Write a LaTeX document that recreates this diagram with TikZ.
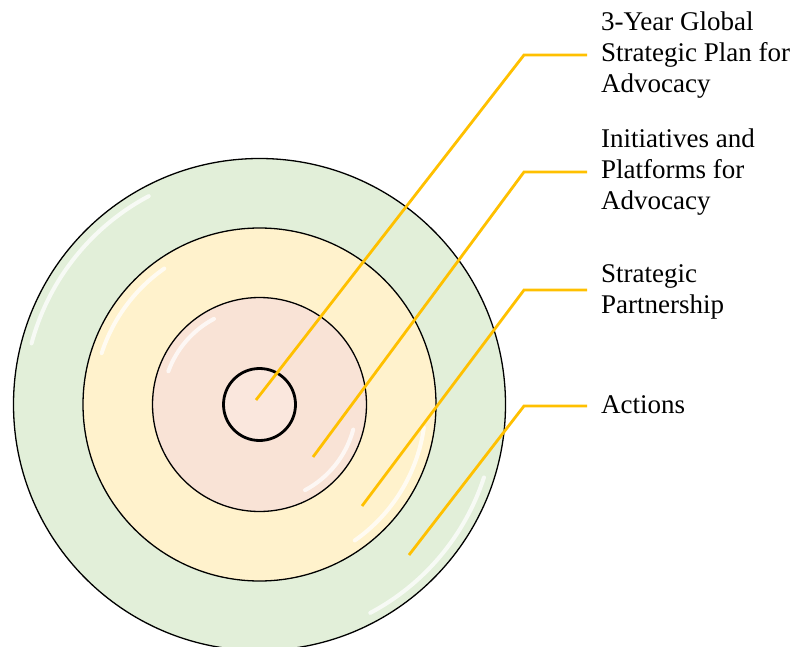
\documentclass[tikz,border=0pt]{standalone}
\usepackage{fontspec}
\setmainfont{Liberation Serif}
\usetikzlibrary{positioning}

\definecolor{actgreen}{HTML}{E2EFD9}
\definecolor{partyellow}{HTML}{FFF2CC}
\definecolor{initpink}{HTML}{F9E3D6}
\definecolor{planpink}{HTML}{FAE7DD}
\definecolor{leadgold}{HTML}{FFC000}

\tikzset{
  ring/.style={circle,draw,line width=1.3pt,inner sep=0pt},
  gloss/.style={white,line width=4pt,line cap=round,opacity=0.75},
  leader/.style={leadgold,line width=2.8pt,shorten >=14pt},
  caption/.style={anchor=base west,inner sep=0pt,align=left,font=\fontsize{27}{31}\selectfont},
}

\begin{document}
\begin{tikzpicture}[x=1pt,y=-1pt]

            % \draw [help lines] (0,0) grid (795,647);
            \useasboundingbox (0,0) rectangle (795,647);

            \path   (259.5,404.5) node (actions ring) [ring,fill=actgreen,minimum size=492pt] {}
                    (259.5,404.5) node (partnership ring) [ring,fill=partyellow,minimum size=353pt] {}
                    (259.5,404.5) node (initiatives ring) [ring,fill=initpink,minimum size=214pt] {}
                    (259.5,404.5) node (plan ring) [ring,fill=planpink,line width=2.8pt,minimum size=72pt] {};

            % shine on the rings
            \draw[gloss] (actions ring.center) ++(118:236pt) arc[start angle=118,end angle=165,radius=236pt];
            \draw[gloss] (actions ring.center) ++(-18:236pt) arc[start angle=-18,end angle=-62,radius=236pt];
            \draw[gloss] (partnership ring.center) ++(125:166pt) arc[start angle=125,end angle=162,radius=166pt];
            \draw[gloss] (partnership ring.center) ++(-8:166pt) arc[start angle=-8,end angle=-55,radius=166pt];
            \draw[gloss] (initiatives ring.center) ++(118:97pt) arc[start angle=118,end angle=160,radius=97pt];
            \draw[gloss] (initiatives ring.center) ++(-15:97pt) arc[start angle=-15,end angle=-62,radius=97pt];

            \path   (601,93) node (plan) [caption] {3-Year Global\\Strategic Plan for\\Advocacy}
                    (601,210) node (initiatives) [caption] {Initiatives and\\Platforms for\\Advocacy}
                    (601,313) node (partnership) [caption] {Strategic\\Partnership}
                    (601,413) node (actions) [caption] {Actions};

            \coordinate (plan tip) at (256,400);
            \coordinate (initiatives tip) at (313,457);
            \coordinate (partnership tip) at (362,506);
            \coordinate (actions tip) at (409,555);
            \coordinate (plan elbow) at (524,55);
            \coordinate (initiatives elbow) at (524,172);
            \coordinate (partnership elbow) at (524,290);
            \coordinate (actions elbow) at (524,406);

            \draw[leader] (plan tip) -- (plan elbow) -- (plan elbow -| plan.west);
            \draw[leader] (initiatives tip) -- (initiatives elbow) -- (initiatives elbow -| initiatives.west);
            \draw[leader] (partnership tip) -- (partnership elbow) -- (partnership elbow -| partnership.west);
            \draw[leader] (actions tip) -- (actions elbow) -- (actions elbow -| actions.west);

\end{tikzpicture}
\end{document}
